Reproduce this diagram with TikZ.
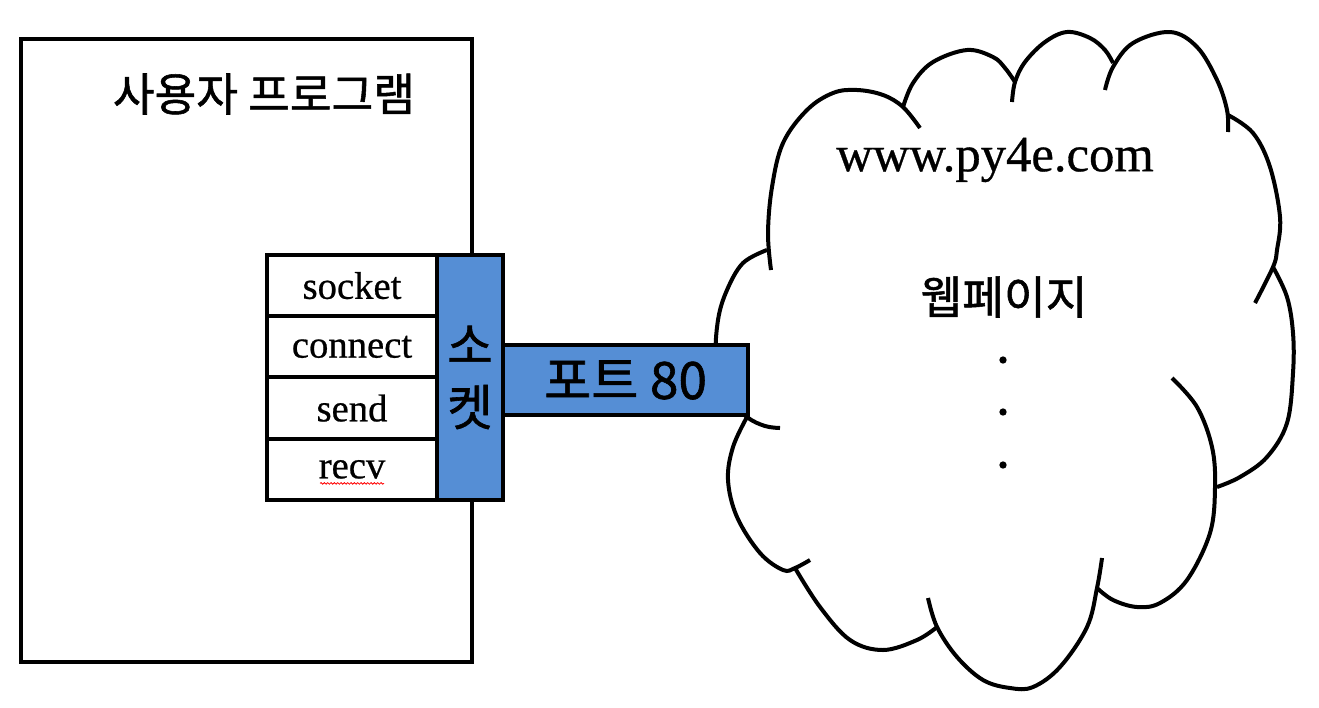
\documentclass[tikz,border=0pt]{standalone}
\usepackage{fontspec}
\setmainfont[FakeBold=0.6]{Liberation Serif}
\newfontfamily\krfont[FakeBold=1.2]{Noto Sans CJK KR}
\usetikzlibrary{decorations.pathmorphing}
\definecolor{sockblue}{HTML}{558ED5}
\begin{document}
\begin{tikzpicture}[x=0.75pt,y=-0.75pt,
  outline/.style={draw=black,line width=3pt},
  cloudline/.style={draw=black,line width=3pt},
  mainbox/.style={outline,fill=white,minimum width=338.25pt,minimum height=467.25pt,inner sep=0pt},
  fnbox/.style={outline,fill=white,minimum width=127.5pt,minimum height=45.94pt,inner sep=0pt,font=\fontsize{29}{33}\selectfont},
  sockbar/.style={outline,fill=sockblue,minimum width=49.5pt,minimum height=183.75pt,inner sep=0pt,align=center,font=\krfont\fontsize{37}{46.5}\selectfont},
  portbox/.style={outline,fill=sockblue,minimum width=183.75pt,minimum height=52.5pt,inner sep=0pt,font=\krfont\fontsize{38.5}{42}\selectfont},
  krlabel/.style={font=\krfont\fontsize{34}{38}\selectfont,inner sep=0pt},
  urllabel/.style={font=\fontsize{38}{44}\selectfont,inner sep=0pt},
  dotmark/.style={fill=black,circle,inner sep=0pt,minimum size=5.5pt}
]
\useasboundingbox (0,0) rectangle (1319,707);

% user program box
\node[mainbox,anchor=north west] (main) at (19,37) {};
\node[krlabel] (title) at (264,94) {사용자 프로그램};

% cloud lobes
\draw[cloudline] plot[smooth,tension=0.6] coordinates {(767,250) (743,263) (727,290) (718,320) (716,360) (725,395) (747,417) (765,426) (780,428)};
\draw[cloudline] plot[smooth,tension=0.6] coordinates {(771,270) (768,233) (772,187) (783,143) (807,110) (833,93) (857,90) (883,95) (903,107) (920,128)};
\draw[cloudline] plot[smooth,tension=0.6] coordinates {(903,107) (913,83) (933,62) (967,50) (993,57) (1005,68) (1015,82)};
\draw[cloudline] plot[smooth,tension=0.6] coordinates {(1012,102) (1015,82) (1025,62) (1045,42) (1067,32) (1090,38) (1105,50) (1113,63)};
\draw[cloudline] plot[smooth,tension=0.6] coordinates {(1105,90) (1113,67) (1133,43) (1170,32) (1197,47) (1217,80) (1227,110) (1228,132)};
\draw[cloudline] plot[smooth,tension=0.6] coordinates {(1228,115) (1253,133) (1270,167) (1280,217) (1277,250) (1273,267) (1255,303)};
\draw[cloudline] plot[smooth,tension=0.6] coordinates {(1273,267) (1287,297) (1293,333) (1293,373) (1287,423) (1267,457) (1240,477) (1217,487)};
\draw[cloudline] plot[smooth,tension=0.6] coordinates {(1172,378) (1197,407) (1212,447) (1215,487) (1210,533) (1187,580) (1160,603) (1137,607) (1113,600) (1097,588)};
\draw[cloudline] plot[smooth,tension=0.6] coordinates {(1102,558) (1097,588) (1087,627) (1060,667) (1033,687) (1010,688) (983,680) (957,657) (937,627) (928,598)};
\draw[cloudline] plot[smooth,tension=0.6] coordinates {(937,627) (917,640) (883,650) (850,640) (820,607) (795,568)};
\draw[cloudline] plot[smooth,tension=0.6] coordinates {(810,560) (795,568) (783,570) (760,553) (737,517) (728,480) (733,447) (747,417)};

% cloud contents
\node[urllabel] (url) at (995,160) {www.py4e.com};
\node[krlabel] (page) at (1004,297) {웹페이지};
\node[dotmark] (d1) at (1003,360) {};
\node[dotmark] (d2) at (1003,412) {};
\node[dotmark] (d3) at (1003,465) {};

% function boxes
\node[fnbox] (fsocket) at (352,285.6) {socket};
\node[fnbox] (fconnect) at (352,346.9) {connect};
\node[fnbox] (fsend) at (352,408.1) {send};
\node[fnbox] (frecv) at (352,469.4) {recv};
\draw[red,line width=0.6pt,decorate,decoration={snake,amplitude=0.6pt,segment length=2.5pt}] ([xshift=-24pt,yshift=-10.5pt]frecv.center) -- ([xshift=24pt,yshift=-10.5pt]frecv.center);

% socket bar and port
\node[sockbar] (sock) at (470,377.5) {소\\켓};
\node[portbox] (port) at (625.5,380) {포트 80};
\end{tikzpicture}
\end{document}
